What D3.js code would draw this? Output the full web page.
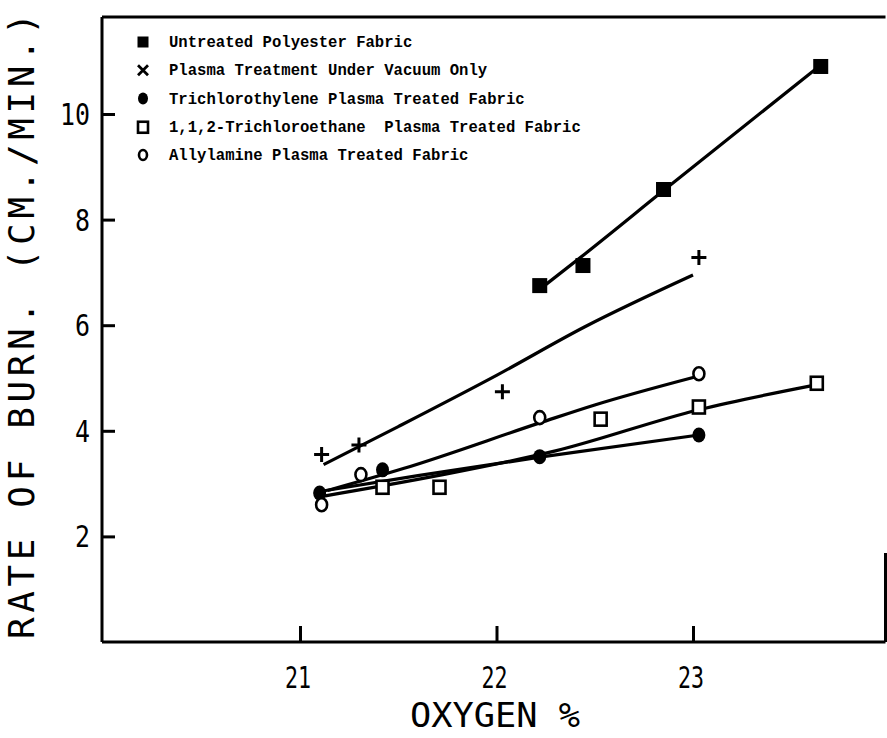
<!DOCTYPE html>
<html>
<head>
<meta charset="utf-8">
<script src="https://cdn.jsdelivr.net/npm/d3@7/dist/d3.min.js"></script>
<style>
  body { margin: 0; background: #fff; }
  svg { display: block; }
  .legend-text { font-family: "Liberation Mono", "DejaVu Sans Mono", monospace; font-size: 15.6px; font-weight: bold; white-space: pre; }
  .plot-text { font-family: "DejaVu Sans Mono", monospace; fill: #000; }
</style>
</head>
<body>
<svg id="chart" width="887" height="738"></svg>
<script>
const untreatedX = [22.22, 22.44, 22.85, 23.65];
const untreatedY = [6.75, 7.13, 8.57, 10.90];
const untreatedFitX = [22.22, 22.45, 22.85, 23.62];
const untreatedFitY = [6.68, 7.35, 8.55, 10.84];

const vacuumX = [21.11, 21.30, 22.03, 23.03];
const vacuumY = [3.55, 3.73, 4.74, 7.28];
const vacuumFitX = [21.12, 21.5, 22.0, 22.45, 23.0];
const vacuumFitY = [3.36, 4.08, 5.05, 5.97, 6.95];

const trichloroethyleneX = [21.10, 21.42, 22.22, 23.03];
const trichloroethyleneY = [2.82, 3.26, 3.51, 3.92];
const trichloroethyleneFitX = [21.1, 21.6, 22.22, 23.03];
const trichloroethyleneFitY = [2.85, 3.15, 3.50, 3.92];

const trichloroethaneX = [21.42, 21.71, 22.53, 23.03, 23.63];
const trichloroethaneY = [2.94, 2.94, 4.23, 4.46, 4.91];
const trichloroethaneFitX = [21.1, 21.7, 22.3, 23.03, 23.6];
const trichloroethaneFitY = [2.75, 3.15, 3.62, 4.40, 4.85];

const allylamineX = [21.11, 21.31, 22.22, 23.03];
const allylamineY = [2.60, 3.17, 4.25, 5.08];
const allylamineFitX = [21.14, 21.53, 22.22, 22.5, 23.01];
const allylamineFitY = [2.87, 3.29, 4.15, 4.49, 5.02];

const legendLabels = [
    "Untreated Polyester Fabric",
    "Plasma Treatment Under Vacuum Only",
    "Trichlorothylene Plasma Treated Fabric",
    "1,1,2-Trichloroethane  Plasma Treated Fabric",
    "Allylamine Plasma Treated Fabric"
];

const xTicks = [21, 22, 23];
const xTickLabels = ["21", "22", "23"];
const yTicks = [2, 4, 6, 8, 10];
const yTickLabels = ["2", "4", "6", "8", "10"];

const xTitle = "OXYGEN %";
const yTitle = "RATE OF BURN. (CM./MIN.)";

// series table, markers drawn by name
const series = [
    { x: untreatedX, y: untreatedY, fx: untreatedFitX, fy: untreatedFitY, marker: "filledSquare", legendMarker: "filledSquare" },
    { x: vacuumX, y: vacuumY, fx: vacuumFitX, fy: vacuumFitY, marker: "plus", legendMarker: "cross" },
    { x: trichloroethyleneX, y: trichloroethyleneY, fx: trichloroethyleneFitX, fy: trichloroethyleneFitY, marker: "filledCircle", legendMarker: "filledCircle" },
    { x: trichloroethaneX, y: trichloroethaneY, fx: trichloroethaneFitX, fy: trichloroethaneFitY, marker: "openSquare", legendMarker: "openSquare" },
    { x: allylamineX, y: allylamineY, fx: allylamineFitX, fy: allylamineFitY, marker: "openCircle", legendMarker: "openCircle" }
];

const svg = d3.select("#chart");
const width = 887;
const height = 738;

const x = d3.scaleLinear().domain([20, 24]).range([103.5, 889.5]);
const y = d3.scaleLinear().domain([0, 10]).range([642, 114]);

const frameTop = 17;
const frameLeft = x(20) - 1.5;
const frameBottom = y(0);
const frameRight = width - 1.5;

// frame (right side is mostly faded out in the original)
const frame = svg.append("g").attr("fill", "none").attr("stroke", "#000").attr("stroke-width", 3);
frame.append("line").attr("x1", frameLeft).attr("x2", frameRight).attr("y1", frameTop).attr("y2", frameTop);
frame.append("line").attr("x1", frameLeft).attr("x2", frameLeft).attr("y1", frameTop).attr("y2", frameBottom);
frame.append("line").attr("x1", frameLeft).attr("x2", frameRight).attr("y1", frameBottom).attr("y2", frameBottom);
frame.append("line").attr("x1", frameRight).attr("x2", frameRight).attr("y1", 553).attr("y2", frameBottom);

// inward ticks via d3 axes
const xAxis = d3.axisTop(x).tickValues(xTicks).tickSize(16).tickFormat("");
svg.append("g")
    .attr("transform", `translate(0,${frameBottom})`)
    .call(xAxis)
    .call(g => g.select(".domain").remove())
    .call(g => g.selectAll(".tick line").attr("stroke-width", 3));

const yAxis = d3.axisRight(y).tickValues(yTicks).tickSize(13).tickFormat("");
svg.append("g")
    .attr("transform", `translate(${frameLeft},0)`)
    .call(yAxis)
    .call(g => g.select(".domain").remove())
    .call(g => g.selectAll(".tick line").attr("stroke-width", 3));

// tick labels
svg.append("g").selectAll("text")
    .data(xTicks)
    .enter().append("text")
    .attr("class", "plot-text")
    .attr("x", d => x(d) - 2)
    .attr("y", 688)
    .attr("text-anchor", "middle")
    .attr("font-size", 31)
    .attr("textLength", 26)
    .attr("lengthAdjust", "spacingAndGlyphs")
    .text((d, i) => xTickLabels[i]);

svg.append("g").selectAll("text")
    .data(yTicks)
    .enter().append("text")
    .attr("class", "plot-text")
    .attr("x", 90)
    .attr("y", d => y(d) + 11)
    .attr("text-anchor", "end")
    .attr("font-size", 31)
    .attr("textLength", (d, i) => yTickLabels[i].length * 15)
    .attr("lengthAdjust", "spacingAndGlyphs")
    .text((d, i) => yTickLabels[i]);

// axis titles
svg.append("text")
    .attr("class", "plot-text")
    .attr("x", 495)
    .attr("y", 727)
    .attr("text-anchor", "middle")
    .attr("font-size", 33)
    .attr("textLength", 170)
    .attr("lengthAdjust", "spacingAndGlyphs")
    .text(xTitle);

svg.append("text")
    .attr("class", "plot-text")
    .attr("transform", "translate(34,326) rotate(-90)")
    .attr("text-anchor", "middle")
    .attr("font-size", 36)
    .attr("textLength", 626)
    .attr("lengthAdjust", "spacing")
    .text(yTitle);

// fit curves
const line = d3.line()
    .x(d => x(d[0]))
    .y(d => y(d[1]))
    .curve(d3.curveMonotoneX);

svg.append("g").selectAll("path")
    .data(series)
    .enter().append("path")
    .attr("d", s => line(s.fx.map((v, i) => [v, s.fy[i]])))
    .attr("fill", "none")
    .attr("stroke", "#000")
    .attr("stroke-width", 3.2)
    .attr("stroke-linejoin", "round");

function drawMarker(g, type, cx, cy, size) {
    if (type === "filledSquare") {
        g.append("rect").attr("x", cx - size / 2).attr("y", cy - size / 2)
         .attr("width", size).attr("height", size).attr("fill", "#000");
    } else if (type === "plus") {
        g.append("path")
         .attr("d", `M${cx - size / 2},${cy}H${cx + size / 2}M${cx},${cy - size / 2}V${cy + size / 2}`)
         .attr("stroke", "#000").attr("stroke-width", 3).attr("fill", "none");
    } else if (type === "cross") {
        const h = size / 2;
        g.append("path")
         .attr("d", `M${cx - h},${cy - h}L${cx + h},${cy + h}M${cx - h},${cy + h}L${cx + h},${cy - h}`)
         .attr("stroke", "#000").attr("stroke-width", 2.8).attr("fill", "none");
    } else if (type === "filledCircle") {
        g.append("ellipse").attr("cx", cx).attr("cy", cy)
         .attr("rx", size / 2).attr("ry", size / 2 + 1).attr("fill", "#000");
    } else if (type === "openSquare") {
        g.append("rect").attr("x", cx - size / 2).attr("y", cy - size / 2)
         .attr("width", size).attr("height", size + 1)
         .attr("fill", "#fff").attr("stroke", "#000").attr("stroke-width", 2.6);
    } else if (type === "openCircle") {
        g.append("ellipse").attr("cx", cx).attr("cy", cy)
         .attr("rx", size / 2 - 1).attr("ry", size / 2)
         .attr("fill", "#fff").attr("stroke", "#000").attr("stroke-width", 2.6);
    }
}

// data markers
const markerSizes = { filledSquare: 15, plus: 15, filledCircle: 13, openSquare: 12, openCircle: 13 };
const marks = svg.append("g");
series.forEach(s => {
    s.x.forEach((v, i) => {
        drawMarker(marks, s.marker, x(v), y(s.y[i]), markerSizes[s.marker]);
    });
});

// legend
const legendY = d3.scalePoint().domain(d3.range(legendLabels.length)).range([42, 155]);
const legend = svg.append("g");
legendLabels.forEach((label, i) => {
    drawMarker(legend, series[i].legendMarker, 143, legendY(i), i === 0 ? 11 : 10);
    legend.append("text")
        .attr("class", "legend-text")
        .attr("x", 169)
        .attr("y", legendY(i) + 5)
        .text(label);
});
</script>
</body>
</html>
